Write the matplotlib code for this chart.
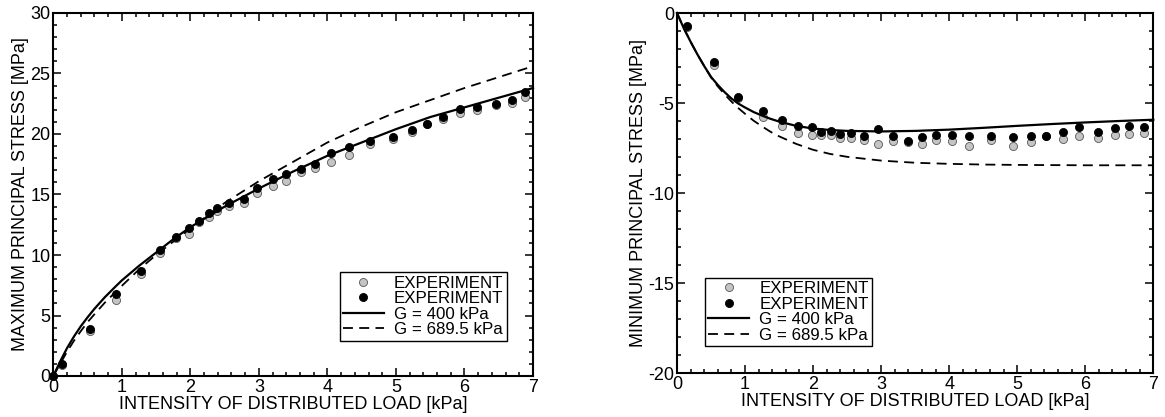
import matplotlib
matplotlib.use("Agg")
import matplotlib.pyplot as plt
from matplotlib.ticker import MultipleLocator

plt.rcParams['font.family'] = ['Liberation Sans', 'DejaVu Sans']
plt.rcParams['axes.unicode_minus'] = False

# ---------------- data ----------------
# Left panel: maximum principal stress
load_max = [0.0, 0.12, 0.53, 0.91, 1.28, 1.56, 1.79, 1.98, 2.12, 2.27, 2.39, 2.56,
            2.78, 2.97, 3.20, 3.39, 3.62, 3.82, 4.05, 4.31, 4.62, 4.96, 5.23, 5.45,
            5.69, 5.94, 6.19, 6.46, 6.69, 6.89]
max_exp_gray = [0.0, 0.9, 3.7, 6.3, 8.45, 10.2, 11.4, 11.7, 12.7, 13.1, 13.6, 14.05,
                14.3, 15.15, 15.7, 16.1, 16.85, 17.2, 17.7, 18.3, 19.2, 19.6, 20.2, 20.8,
                21.2, 21.7, 21.95, 22.4, 22.6, 23.05]
max_exp_black = [0.0, 0.96, 3.9, 6.8, 8.7, 10.4, 11.5, 12.2, 12.8, 13.45, 13.9, 14.3,
                 14.65, 15.5, 16.3, 16.7, 17.1, 17.5, 18.4, 18.9, 19.4, 19.75, 20.3, 20.85,
                 21.4, 22.1, 22.2, 22.5, 22.8, 23.5]

curve_x_max = [0.0, 0.1, 0.2, 0.3, 0.4, 0.5, 0.6, 0.75, 0.9, 1.0, 1.25, 1.5, 1.75,
               2.0, 2.5, 3.0, 3.5, 4.0, 4.5, 5.0, 5.5, 6.0, 6.5, 7.0]
max_g400 = [0.0, 1.2, 2.3, 3.25, 4.1, 4.85, 5.55, 6.5, 7.35, 7.9, 9.1, 10.2, 11.3,
            12.3, 14.0, 15.5, 16.9, 18.2, 19.3, 20.4, 21.4, 22.2, 23.0, 23.8]
max_g689 = [0.0, 1.0, 2.0, 2.9, 3.7, 4.45, 5.1, 6.05, 6.9, 7.45, 8.8, 10.0, 11.1,
            12.2, 14.3, 16.1, 17.7, 19.3, 20.6, 21.8, 22.8, 23.8, 24.7, 25.6]

# Right panel: minimum principal stress
load_min = [0.14, 0.54, 0.90, 1.27, 1.54, 1.78, 1.98, 2.12, 2.26, 2.39, 2.56, 2.75,
            2.96, 3.17, 3.39, 3.60, 3.81, 4.04, 4.29, 4.61, 4.94, 5.20, 5.42, 5.68,
            5.91, 6.19, 6.44, 6.65, 6.87]
min_exp_gray = [-0.80, -2.91, -4.70, -5.79, -6.25, -6.64, -6.77, -6.79, -6.77, -6.96,
                -6.96, -7.05, -7.27, -7.10, -7.14, -7.29, -7.07, -7.09, -7.37, -7.05,
                -7.37, -7.14, -6.85, -7.00, -6.86, -6.96, -6.77, -6.72, -6.64]
min_exp_black = [-0.74, -2.73, -4.64, -5.47, -5.97, -6.25, -6.36, -6.62, -6.53, -6.73,
                 -6.64, -6.83, -6.44, -6.81, -7.10, -6.91, -6.77, -6.77, -6.86, -6.83,
                 -6.90, -6.81, -6.83, -6.60, -6.31, -6.59, -6.40, -6.27, -6.31]

curve_x_min = [0.0, 0.1, 0.2, 0.3, 0.4, 0.5, 0.6, 0.7, 0.8, 0.9, 1.0, 1.125, 1.25,
               1.375, 1.5, 1.75, 2.0, 2.25, 2.5, 3.0, 3.5, 4.0, 4.5, 5.0, 5.5, 6.0,
               6.5, 7.0]
min_g400 = [0.0, -0.85, -1.6, -2.3, -2.95, -3.55, -4.0, -4.4, -4.75, -5.03, -5.25,
            -5.5, -5.7, -5.88, -6.03, -6.27, -6.42, -6.5, -6.55, -6.58, -6.55,
            -6.48, -6.38, -6.27, -6.17, -6.08, -6.0, -5.93]
min_g689 = [0.0, -0.85, -1.6, -2.3, -2.95, -3.58, -4.08, -4.52, -4.92, -5.28, -5.6,
            -5.98, -6.3, -6.6, -6.85, -7.27, -7.6, -7.83, -7.99, -8.2, -8.32,
            -8.38, -8.42, -8.44, -8.45, -8.46, -8.46, -8.46]

labels = ["EXPERIMENT", "EXPERIMENT", "G = 400 kPa", "G = 689.5 kPa"]
xlabel = "INTENSITY OF DISTRIBUTED LOAD [kPa]"

# ---------------- figure ----------------
fig = plt.figure(figsize=(11.65, 4.17), dpi=100)
ax1 = fig.add_axes([53.3 / 1165, 1 - 376 / 417, 479.7 / 1165, 363 / 417])
ax2 = fig.add_axes([677 / 1165, 1 - 373 / 417, 476.3 / 1165, 360 / 417])

FS = 13
LFS = 12.2
ms = 5.8
dash = (0, (5.5, 3.5))


def style(ax):
    for sp in ax.spines.values():
        sp.set_linewidth(1.5)
    ax.tick_params(which='both', direction='in', top=True, right=True,
                   labelsize=FS, width=1.1, pad=2)
    ax.tick_params(which='major', length=6)
    ax.tick_params(which='minor', length=3)
    ax.xaxis.set_major_locator(MultipleLocator(1))
    ax.xaxis.set_minor_locator(MultipleLocator(0.2))
    ax.yaxis.set_minor_locator(MultipleLocator(1))
    ax.set_xlabel(xlabel, fontsize=FS, labelpad=0)


def draw(ax, xe, g, b, xc, c1, c2):
    h1, = ax.plot(xe, g, 'o', ms=ms, mfc='#c4c4c4', mec='#555555', mew=0.6, ls='none')
    h2, = ax.plot(xe, b, 'o', ms=ms, mfc='black', mec='black', mew=0.6, ls='none')
    h3, = ax.plot(xc, c1, '-', color='black', lw=1.6)
    h4, = ax.plot(xc, c2, color='black', lw=1.3, ls=dash)
    return [h1, h2, h3, h4]


def legend(ax, hs, loc, anchor):
    leg = ax.legend(hs, labels, loc=loc, bbox_to_anchor=anchor,
                    fontsize=LFS, frameon=True, fancybox=False, edgecolor='black',
                    framealpha=1, borderpad=0.2, labelspacing=0.03, handlelength=2.4,
                    handletextpad=0.6, borderaxespad=0)
    leg.get_frame().set_linewidth(1.0)


hs = draw(ax1, load_max, max_exp_gray, max_exp_black, curve_x_max, max_g400, max_g689)
ax1.set_xlim(0, 7)
ax1.set_ylim(0, 30)
ax1.yaxis.set_major_locator(MultipleLocator(5))
style(ax1)
ax1.set_ylabel("MAXIMUM PRINCIPAL STRESS [MPa]", fontsize=FS, labelpad=1)
legend(ax1, hs, 'lower right', (0.945, 0.097))

hs2 = draw(ax2, load_min, min_exp_gray, min_exp_black, curve_x_min, min_g400, min_g689)
ax2.set_xlim(0, 7)
ax2.set_ylim(-20, 0)
ax2.yaxis.set_major_locator(MultipleLocator(5))
style(ax2)
ax2.set_ylabel("MINIMUM PRINCIPAL STRESS [MPa]", fontsize=FS, labelpad=1)
legend(ax2, hs2, 'lower left', (0.059, 0.075))

for ax in (ax1, ax2):
    for h in ax.get_lines():
        h.set_clip_on(False)

fig.savefig("out.png", dpi=100)
